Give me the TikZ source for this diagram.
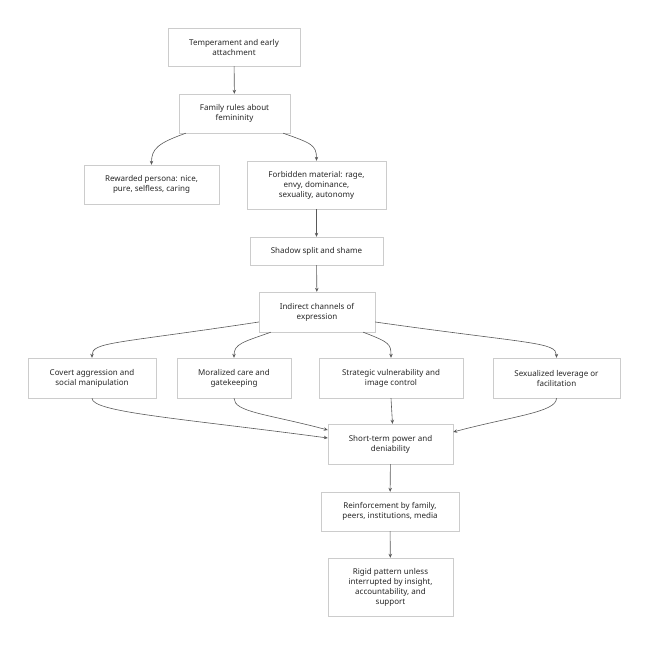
\documentclass[tikz,border=0pt]{standalone}
\usepackage{fontspec}
\setmainfont{Noto Sans}
\usetikzlibrary{arrows.meta}
\begin{document}
\begin{tikzpicture}[x=1pt,y=-1pt,
  box/.style={draw=gray!40,fill=white,align=center,inner sep=0pt,
    font=\fontsize{8}{10}\selectfont,text=black!85},
  flow/.style={draw=black!65,line width=0.6pt,-{Stealth[length=4pt,width=3.5pt]}}]
\useasboundingbox (0,0) rectangle (648,656);
% Upper chain
\node[box,minimum width=132pt,minimum height=38pt] (temp) at (234,47) {Temperament and early\\attachment};
\node[box,minimum width=111pt,minimum height=39pt] (fam) at (234.5,113.5) {Family rules about\\femininity};
\node[box,minimum width=135pt,minimum height=39pt] (rew) at (151.5,184.5) {Rewarded persona: nice,\\pure, selfless, caring};
\node[box,minimum width=139pt,minimum height=48pt] (forb) at (316.5,185) {Forbidden material: rage,\\envy, dominance,\\sexuality, autonomy};
\node[box,minimum width=133pt,minimum height=28pt] (shadow) at (316.5,251) {Shadow split and shame};
\node[box,minimum width=116pt,minimum height=40pt] (ind) at (317,312) {Indirect channels of\\expression};
% Four channels
\node[box,minimum width=128pt,minimum height=40pt] (cov) at (92,378) {Covert aggression and\\social manipulation};
\node[box,minimum width=114pt,minimum height=40pt] (mor) at (234,378) {Moralized care and\\gatekeeping};
\node[box,minimum width=144pt,minimum height=40pt] (strat) at (391,378) {Strategic vulnerability and\\image control};
\node[box,minimum width=127pt,minimum height=40pt] (sex) at (556.5,378) {Sexualized leverage or\\facilitation};
% Lower chain
\node[box,minimum width=125pt,minimum height=40pt] (short) at (390.5,444) {Short-term power and\\deniability};
\node[box,minimum width=138pt,minimum height=39pt] (reinf) at (390,511.5) {Reinforcement by family,\\peers, institutions, media};
\node[box,minimum width=125pt,minimum height=58pt] (rigid) at (390.5,587) {Rigid pattern unless\\interrupted by insight,\\accountability, and\\support};
% Arrows
\draw[flow] (temp) -- (fam);
\draw[flow] ([xshift=7pt]fam.south west) .. controls +(-28,10) and +(0,-16) .. (rew.north);
\draw[flow] ([xshift=-7pt]fam.south east) .. controls +(28,10) and +(0,-16) .. (forb.north);
\draw[flow] (forb) -- (shadow);
\draw[flow] (shadow) -- (ind);
\draw[flow] ([yshift=-10pt]ind.west) .. controls +(-145,22) and +(0,-16) .. (cov.north);
\draw[flow] ([xshift=12pt]ind.south west) .. controls +(-28,10) and +(0,-14) .. (mor.north);
\draw[flow] ([xshift=-12pt]ind.south east) .. controls +(26,10) and +(0,-14) .. (strat.north);
\draw[flow] ([yshift=-10pt]ind.east) .. controls +(155,22) and +(0,-16) .. (sex.north);
\draw[flow] (cov.south) .. controls +(0,14) and +(-150,-20) .. ([yshift=6pt]short.west);
\draw[flow] (mor.south) .. controls +(0,14) and +(-60,-16) .. ([yshift=14pt]short.west);
\draw[flow] (strat.south) -- ([xshift=2pt]short.north);
\draw[flow] (sex.south) .. controls +(0,14) and +(60,-16) .. ([yshift=12pt]short.east);
\draw[flow] (short) -- (reinf);
\draw[flow] (reinf) -- (rigid);
\end{tikzpicture}
\end{document}
